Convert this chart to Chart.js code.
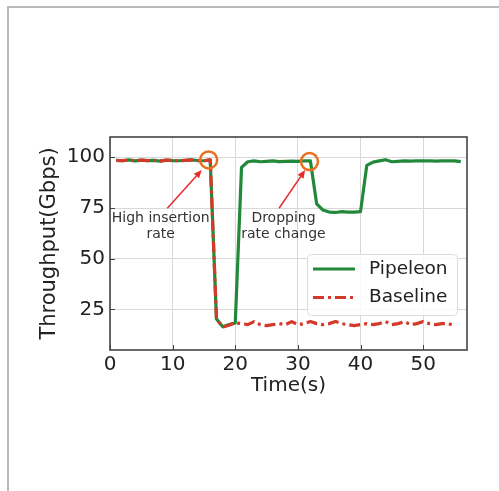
<!DOCTYPE html>
<html>
<head>
<meta charset="utf-8">
<script src="https://cdn.jsdelivr.net/npm/chart.js@4.4.1/dist/chart.umd.min.js"></script>
<style>
    body { margin: 0; background: #fff; }
    #frame { position: absolute; left: 7px; top: 6px; width: 600px; height: 600px;
             border-left: 2px solid #b9b9b9; border-top: 2px solid #b9b9b9; }
    #myChart { position: absolute; left: 0; top: 0; }
</style>
</head>
<body>
<div id="frame"></div>
<canvas id="myChart" width="499" height="491"></canvas>
<script>
// time axis (seconds)
const times = [1, 2, 3, 4, 5, 6, 7, 8, 9, 10, 11, 12, 13, 14, 15, 16, 17, 18, 19, 20,
    21, 22, 23, 24, 25, 26, 27, 28, 29, 30, 31, 32, 33, 34, 35, 36, 37, 38, 39, 40,
    41, 42, 43, 44, 45, 46, 47, 48, 49, 50, 51, 52, 53, 54, 55, 56];

const pipeleon = [98.5, 98.3, 98.7, 98.2, 98.6, 98.4, 98.5, 98.1, 98.6, 98.4, 98.3, 98.5, 98.7, 98.4, 98.3, 98.7,
    20.3, 16.5, 17.5, 18.3,
    95.0, 97.8, 98.2, 97.8, 98.0, 98.2, 97.9, 98.0, 98.1, 98.0, 98.2, 98.2,
    77.0, 74.0, 73.0, 72.8, 73.2, 73.0, 73.0, 73.2,
    96.0, 97.6, 98.2, 98.8, 97.8, 98.0, 98.2, 98.1, 98.3, 98.2, 98.3, 98.1, 98.2, 98.3, 98.2, 97.9];

const baseline = [98.5, 98.3, 98.7, 98.2, 98.6, 98.4, 98.5, 98.1, 98.6, 98.4, 98.3, 98.5, 98.7, 98.4, 98.3, 98.7,
    20.3, 16.3, 17.2, 18.4,
    18.0, 17.5, 19.0, 17.5, 17.0, 17.5, 18.0, 17.5, 19.0, 17.5, 18.0, 19.0,
    18.0, 17.5, 18.0, 19.0, 18.0, 17.5, 17.0, 17.5,
    18.0, 17.5, 18.0, 19.0, 17.5, 18.0, 19.0, 17.5, 18.0, 19.0, 18.0, 17.5, 18.0, 18.0, 17.0];

const xTicks = [0, 10, 20, 30, 40, 50];
const yTicks = [25, 50, 75, 100];

const seriesNames = ['Pipeleon', 'Baseline'];

// annotation texts, circles and arrows (in data units)
const notes = [
    { lines: ['High insertion', 'rate'], x: 8.1, y: 69.9 },
    { lines: ['Dropping', 'rate change'], x: 27.7, y: 69.9 }
];
const circles = [[15.75, 98.7], [31.85, 97.9]];
const arrows = [
    { from: [9.15, 74.9], to: [14.65, 93.7] },
    { from: [27.0, 74.9], to: [31.15, 93.7] }
];

const FONT = "'DejaVu Sans', sans-serif";
const GREEN = '#22893a';
const RED = '#d5392a';

function pts(ys) {
    const out = [];
    for (let i = 0; i < ys.length; i++) out.push({ x: times[i], y: ys[i] });
    return out;
}

const extras = {
    id: 'extras',
    afterDatasetsDraw(chart) {
        const c = chart.ctx;
        const a = chart.chartArea;
        const xs = chart.scales.x, ys = chart.scales.y;
        c.save();

        // inward ticks
        c.strokeStyle = '#444';
        c.lineWidth = 1;
        xTicks.forEach(function (v) {
            const px = Math.round(xs.getPixelForValue(v)) + 0.5;
            c.beginPath(); c.moveTo(px, a.bottom); c.lineTo(px, a.bottom - 5); c.stroke();
        });
        yTicks.forEach(function (v) {
            const py = Math.round(ys.getPixelForValue(v)) + 0.5;
            c.beginPath(); c.moveTo(a.left, py); c.lineTo(a.left + 5, py); c.stroke();
        });

        // frame
        c.strokeStyle = '#444';
        c.lineWidth = 1.6;
        c.strokeRect(a.left, a.top, a.right - a.left, a.bottom - a.top);

        // circles
        c.strokeStyle = '#e8701e';
        c.lineWidth = 2.5;
        circles.forEach(function (p) {
            c.beginPath();
            c.arc(xs.getPixelForValue(p[0]), ys.getPixelForValue(p[1]), 8.5, 0, Math.PI * 2);
            c.stroke();
        });

        // arrows
        c.strokeStyle = '#e82a2a';
        c.fillStyle = '#e82a2a';
        c.lineWidth = 1.5;
        arrows.forEach(function (ar) {
            const x0 = xs.getPixelForValue(ar.from[0]), y0 = ys.getPixelForValue(ar.from[1]);
            const x1 = xs.getPixelForValue(ar.to[0]), y1 = ys.getPixelForValue(ar.to[1]);
            const ang = Math.atan2(y1 - y0, x1 - x0);
            const hl = 8, hw = 3.5;
            const bx = x1 - hl * Math.cos(ang), by = y1 - hl * Math.sin(ang);
            c.beginPath(); c.moveTo(x0, y0); c.lineTo(bx, by); c.stroke();
            c.beginPath();
            c.moveTo(x1, y1);
            c.lineTo(bx + hw * Math.sin(ang), by - hw * Math.cos(ang));
            c.lineTo(bx - hw * Math.sin(ang), by + hw * Math.cos(ang));
            c.closePath(); c.fill();
        });

        // annotation text
        c.fillStyle = '#333';
        c.font = '14px ' + FONT;
        c.textAlign = 'center';
        c.textBaseline = 'middle';
        notes.forEach(function (n) {
            const px = xs.getPixelForValue(n.x), py = ys.getPixelForValue(n.y);
            n.lines.forEach(function (t, i) { c.fillText(t, px, py + i * 16); });
        });

        // legend
        const lx = a.right - 160, ly = a.bottom - 96, lw = 150, lh = 61;
        c.fillStyle = 'rgba(255,255,255,0.85)';
        c.strokeStyle = '#dcdcdc';
        c.lineWidth = 1;
        c.beginPath();
        c.roundRect(lx + 0.5, ly + 0.5, lw, lh, 4);
        c.fill(); c.stroke();
        chart.data.datasets.forEach(function (ds, i) {
            const yy = ly + 15 + i * 28.5;
            c.strokeStyle = ds.borderColor;
            c.lineWidth = 3.2;
            c.setLineDash(ds.borderDash || []);
            c.beginPath(); c.moveTo(lx + 6, yy); c.lineTo(lx + 48, yy); c.stroke();
            c.setLineDash([]);
            c.fillStyle = '#222';
            c.font = '18.5px ' + FONT;
            c.textAlign = 'left';
            c.fillText(ds.label, lx + 62, yy);
        });
        c.restore();
    }
};

const ctx = document.getElementById('myChart');
new Chart(ctx, {
    type: 'line',
    data: {
        datasets: [{
            label: seriesNames[0],
            data: pts(pipeleon),
            borderColor: GREEN,
            borderWidth: 3.2,
            pointRadius: 0,
            borderJoinStyle: 'round',
            order: 1
        }, {
            label: seriesNames[1],
            data: pts(baseline),
            borderColor: RED,
            borderWidth: 3.2,
            borderDash: [11, 4, 3, 4],
            pointRadius: 0,
            borderJoinStyle: 'round',
            order: 0
        }]
    },
    options: {
        responsive: false,
        devicePixelRatio: 1,
        animation: false,
        layout: { padding: { top: 137, right: 32, left: 0, bottom: 0 } },
        plugins: { legend: { display: false }, tooltip: { enabled: false } },
        scales: {
            x: {
                type: 'linear',
                min: 0,
                max: 57,
                afterBuildTicks: function (s) { s.ticks = xTicks.map(function (v) { return { value: v }; }); },
                afterFit: function (s) { s.height = 141; },
                grid: { color: '#d8d8d8', lineWidth: 1, drawTicks: false },
                border: { display: false },
                ticks: { font: { family: FONT, size: 20 }, color: '#222', padding: 3, maxRotation: 0 },
                title: { display: true, text: 'Time(s)', font: { family: FONT, size: 20 }, color: '#222',
                    padding: { top: 0, bottom: 93 } }
            },
            y: {
                min: 5,
                max: 110,
                afterBuildTicks: function (s) { s.ticks = yTicks.map(function (v) { return { value: v }; }); },
                afterFit: function (s) { s.width = 110; },
                grid: { color: '#d8d8d8', lineWidth: 1, drawTicks: false },
                border: { display: false },
                ticks: { font: { family: FONT, size: 20 }, color: '#222', padding: 5 },
                title: { display: true, text: 'Throughput(Gbps)', font: { family: FONT, size: 21 }, color: '#222',
                    padding: { top: 37, bottom: 0 } }
            }
        }
    },
    plugins: [extras]
});
</script>
</body>
</html>
